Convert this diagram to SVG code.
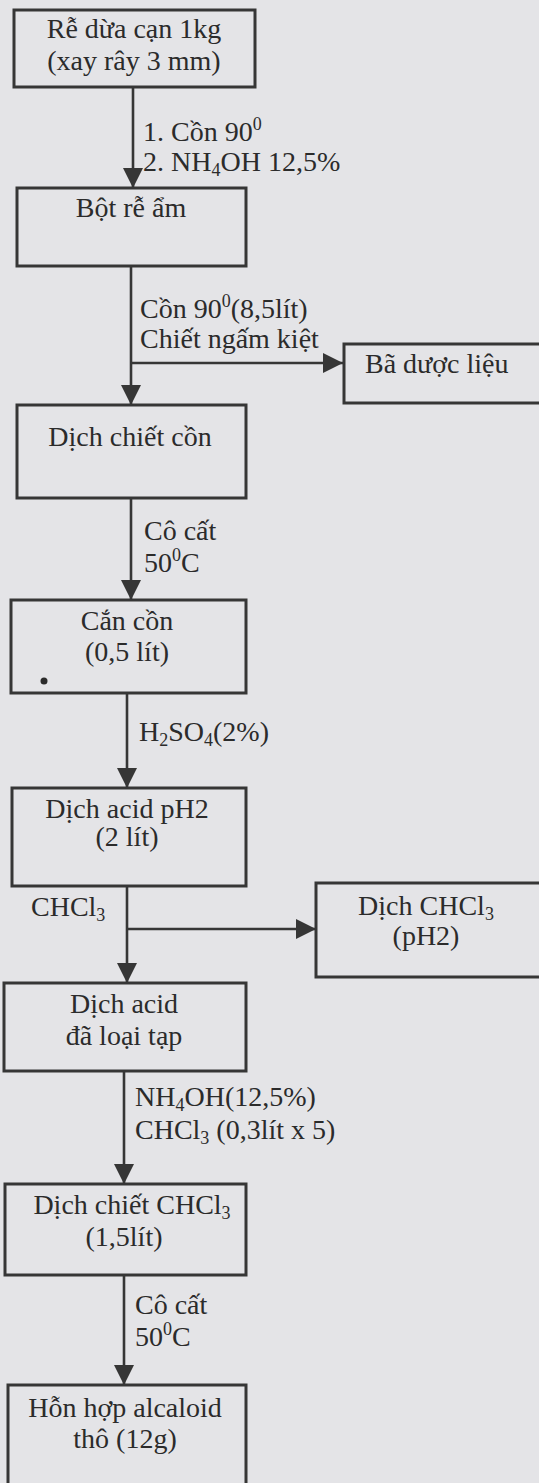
<svg xmlns="http://www.w3.org/2000/svg" width="539" height="1483" viewBox="0 0 539 1483">
<defs>
<style>
.bg{fill:#e4e4e7}
.box{fill:none;stroke:#363636;stroke-width:3}
.ln{fill:none;stroke:#363636;stroke-width:2.6}
text{font-family:"Liberation Serif","Times New Roman",serif;font-size:28px;fill:#2b2b2b}
.c{text-anchor:middle}
.s{font-size:18px}
</style>
<marker id="ah" viewBox="0 0 20 20" refX="20" refY="10" markerWidth="20" markerHeight="20" markerUnits="userSpaceOnUse" orient="auto">
<path d="M0,0 L20,10 L0,20 Z" fill="#363636"/>
</marker>
</defs>
<rect class="bg" x="0" y="0" width="539" height="1483"/>

<g id="connectors">
<line class="ln" x1="133" y1="87" x2="133" y2="188" marker-end="url(#ah)"/>
<line class="ln" x1="131" y1="266" x2="131" y2="405" marker-end="url(#ah)"/>
<line class="ln" x1="131" y1="363" x2="343" y2="363" marker-end="url(#ah)"/>
<line class="ln" x1="131" y1="498" x2="131" y2="600" marker-end="url(#ah)"/>
<line class="ln" x1="127" y1="693" x2="127" y2="788" marker-end="url(#ah)"/>
<line class="ln" x1="127" y1="886" x2="127" y2="983" marker-end="url(#ah)"/>
<line class="ln" x1="127" y1="929" x2="316" y2="929" marker-end="url(#ah)"/>
<line class="ln" x1="124" y1="1071" x2="124" y2="1184" marker-end="url(#ah)"/>
<line class="ln" x1="124" y1="1275" x2="124" y2="1385" marker-end="url(#ah)"/>
</g>

<g id="labels">
<text x="143" y="141">1. Cồn 90<tspan class="s" dy="-11">0</tspan></text>
<text x="143" y="171">2. NH<tspan class="s" dy="5">4</tspan><tspan dy="-5">OH 12,5%</tspan></text>
<text x="140" y="318">Cồn 90<tspan class="s" dy="-11">0</tspan><tspan dy="11">(8,5lít)</tspan></text>
<text x="140" y="348">Chiết ngấm kiệt</text>
<text x="144" y="540">Cô cất</text>
<text x="144" y="572">50<tspan class="s" dy="-11">0</tspan><tspan dy="11">C</tspan></text>
<text x="139" y="741">H<tspan class="s" dy="5">2</tspan><tspan dy="-5">SO</tspan><tspan class="s" dy="5">4</tspan><tspan dy="-5">(2%)</tspan></text>
<text x="31" y="916">CHCl<tspan class="s" dy="5">3</tspan></text>
<text x="135" y="1106">NH<tspan class="s" dy="5">4</tspan><tspan dy="-5">OH(12,5%)</tspan></text>
<text x="135" y="1139">CHCl<tspan class="s" dy="5">3</tspan><tspan dy="-5"> (0,3lít x 5)</tspan></text>
<text x="135" y="1314">Cô cất</text>
<text x="135" y="1346">50<tspan class="s" dy="-11">0</tspan><tspan dy="11">C</tspan></text>
</g>

<g id="n1">
<rect class="box" x="14" y="10" width="241" height="77"/>
<text class="c" x="134" y="38">Rễ dừa cạn 1kg</text>
<text class="c" x="134" y="70">(xay rây 3 mm)</text>
</g>
<g id="n2">
<rect class="box" x="17" y="188" width="229" height="78"/>
<text class="c" x="131" y="217">Bột rễ ẩm</text>
</g>
<g id="n3">
<rect class="box" x="344" y="344" width="210" height="59"/>
<text x="365" y="373">Bã dược liệu</text>
</g>
<g id="n4">
<rect class="box" x="17" y="405" width="229" height="93"/>
<text class="c" x="130" y="446">Dịch chiết cồn</text>
</g>
<g id="n5">
<rect class="box" x="11" y="600" width="235" height="93"/>
<text class="c" x="127" y="630">Cắn cồn</text>
<text class="c" x="127" y="661">(0,5 lít)</text>
<circle cx="44" cy="681" r="3.5" fill="#2b2b2b"/>
</g>
<g id="n6">
<rect class="box" x="12" y="788" width="234" height="98"/>
<text class="c" x="127" y="818">Dịch acid pH2</text>
<text class="c" x="127" y="846">(2 lít)</text>
</g>
<g id="n7">
<rect class="box" x="316" y="883" width="240" height="94"/>
<text class="c" x="426" y="915">Dịch CHCl<tspan class="s" dy="5">3</tspan></text>
<text class="c" x="426" y="945">(pH2)</text>
</g>
<g id="n8">
<rect class="box" x="4" y="983" width="242" height="88"/>
<text class="c" x="124" y="1013">Dịch acid</text>
<text class="c" x="124" y="1045">đã loại tạp</text>
</g>
<g id="n9">
<rect class="box" x="5" y="1184" width="241" height="91"/>
<text class="c" x="132" y="1214">Dịch chiết CHCl<tspan class="s" dy="5">3</tspan></text>
<text class="c" x="124" y="1246">(1,5lít)</text>
</g>
<g id="n10">
<rect class="box" x="8" y="1385" width="238" height="110"/>
<text class="c" x="125" y="1417">Hỗn hợp alcaloid</text>
<text class="c" x="125" y="1448">thô (12g)</text>
</g>
</svg>
